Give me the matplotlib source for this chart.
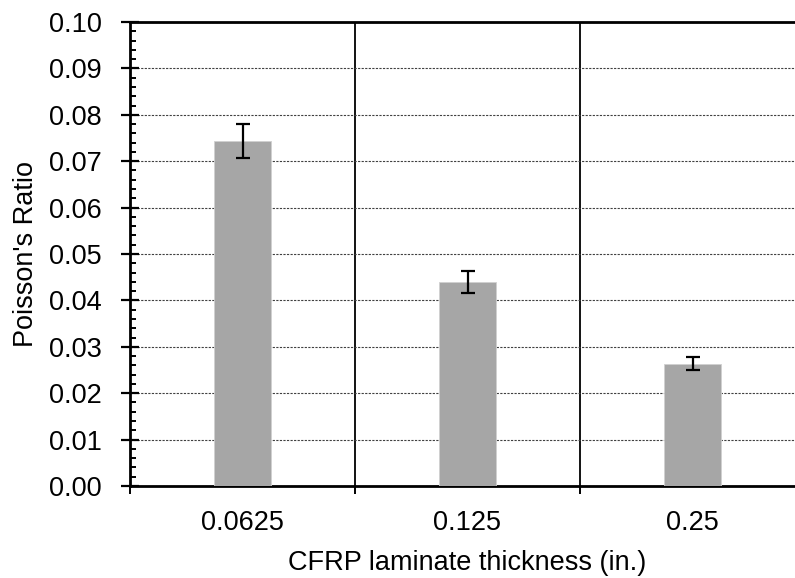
import matplotlib
matplotlib.use("Agg")
import matplotlib.pyplot as plt
from matplotlib.ticker import MultipleLocator

plt.rcParams['font.family'] = ['Liberation Sans', 'DejaVu Sans']

# Poisson's ratio by CFRP laminate thickness
thickness_labels = ["0.0625", "0.125", "0.25"]
poisson_mean = [0.0744, 0.0440, 0.0264]
poisson_err = [0.0037, 0.0023, 0.0014]

FS = 19.5

fig = plt.figure(figsize=(7.95, 5.78), dpi=100)
ax = fig.add_axes([130 / 795, 92 / 578, 675 / 795, 464 / 578])

pos = list(range(len(thickness_labels)))
ax.bar(pos, poisson_mean, width=0.25, color="#A6A6A6", edgecolor="#D0D0D0",
       linewidth=0.6, zorder=3)
ax.errorbar(pos, poisson_mean, yerr=poisson_err, fmt="none", ecolor="black",
            elinewidth=1.6, capsize=4.8, capthick=1.6, zorder=4)

ax.set_xlim(-0.5, len(thickness_labels) - 0.5)
ax.set_ylim(0, 0.10)

# y axis: crossing major ticks, inner minor ticks, dashed grid
ax.yaxis.set_major_locator(MultipleLocator(0.01))
ax.yaxis.set_minor_locator(MultipleLocator(0.002))
ax.yaxis.set_major_formatter(matplotlib.ticker.FormatStrFormatter("%.2f"))
ax.tick_params(axis="y", which="major", direction="inout", length=13,
               width=1.6, labelsize=FS, pad=14)
ax.tick_params(axis="y", which="minor", direction="in", length=4.5, width=1.4)
ax.grid(axis="y", which="major", color="#404040", linestyle=(0, (2.0, 1.2)),
        linewidth=0.8, zorder=1)

# x axis: category dividers as major ticks, labels at category centres
ax.set_xticks([p - 0.5 for p in pos] + [pos[-1] + 0.5])
ax.set_xticklabels([])
ax.set_xticks(pos, minor=True)
ax.set_xticklabels(thickness_labels, minor=True)
ax.tick_params(axis="x", which="major", direction="out", length=5.5, width=1.4)
ax.tick_params(axis="x", which="minor", direction="in", length=4, width=1.4,
               labelsize=FS, pad=17.5)
ax.grid(axis="x", which="major", color="black", linestyle="-", linewidth=1.3,
        zorder=1)

for side in ("left", "bottom", "top"):
    ax.spines[side].set_linewidth(2.0)
ax.spines["right"].set_visible(False)

ax.set_xlabel("CFRP laminate thickness (in.)", fontsize=FS, labelpad=10)
ax.set_ylabel("Poisson's Ratio", fontsize=FS, labelpad=7)

fig.savefig("out.png", dpi=100)
